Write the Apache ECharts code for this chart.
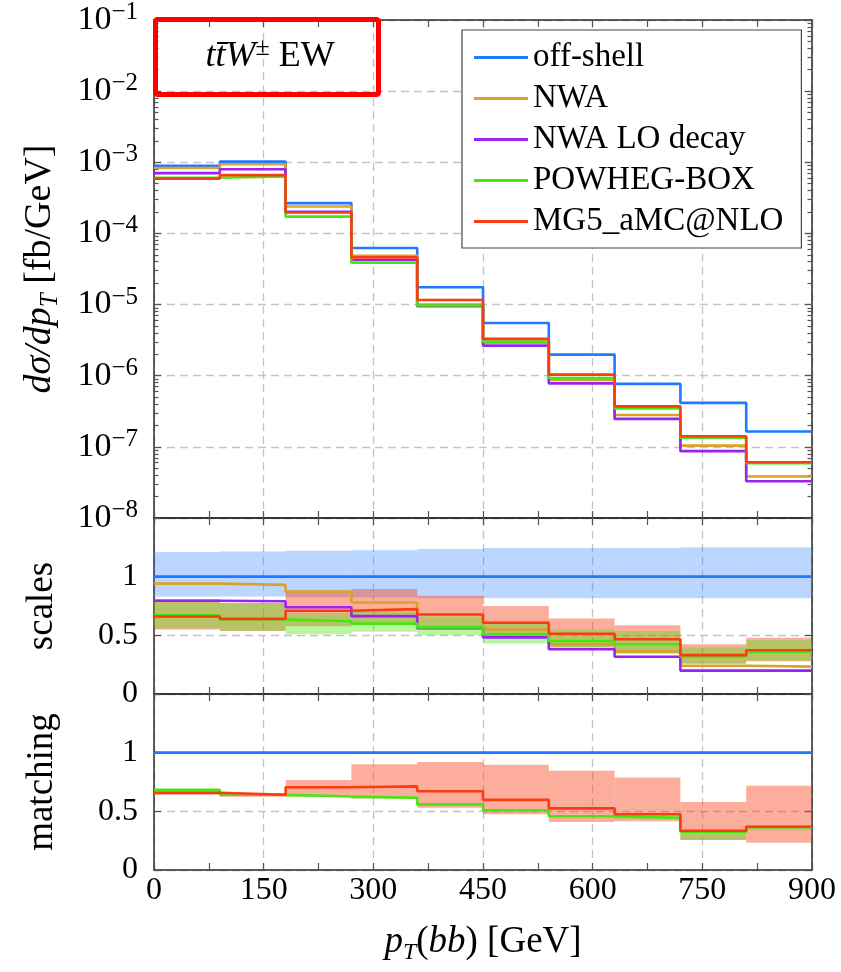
<!DOCTYPE html>
<html><head><meta charset="utf-8">
<script src="https://cdn.jsdelivr.net/npm/echarts@6.0.0/dist/echarts.min.js"></script>
<style>html,body{margin:0;padding:0;background:#fff}#c{width:841px;height:972px}</style>
</head><body><div id="c"></div>
<script>
// ---------- data ----------
const binEdges = [0, 90, 180, 270, 360, 450, 540, 630, 720, 810, 900];
const logDecades = [1e-8, 1e-7, 1e-6, 1e-5, 1e-4, 1e-3, 1e-2, 1e-1];
const logMinorMultipliers = [2, 3, 4, 5, 6, 7, 8, 9];
const ratioTicks = [0, 0.5, 1];
const seriesNames = ['off-shell', 'NWA', 'NWA LO decay', 'POWHEG-BOX', 'MG5_aMC@NLO'];

// top panel: dσ/dpT [fb/GeV]
const offShell = [8.9e-4, 1.02e-3, 2.67e-4, 6.24e-5, 1.75e-5, 5.52e-6, 1.98e-6, 7.67e-7, 4.15e-7, 1.64e-7];
const nwa      = [8.3e-4, 9.4e-4, 2.39e-4, 4.86e-5, 1.0e-5, 2.9e-6, 8.7e-7, 2.81e-7, 1.04e-7, 3.83e-8];
const nwaLO    = [7.05e-4, 8.0e-4, 2.02e-4, 4.23e-5, 9.5e-6, 2.65e-6, 7.8e-7, 2.47e-7, 8.7e-8, 3.29e-8];
const powheg   = [6.05e-4, 6.3e-4, 1.72e-4, 3.87e-5, 9.7e-6, 3.01e-6, 9.3e-7, 3.48e-7, 1.35e-7, 5.9e-8];
const mg5      = [5.9e-4, 6.6e-4, 1.97e-4, 4.6e-5, 1.16e-5, 3.29e-6, 1.035e-6, 3.71e-7, 1.41e-7, 6.08e-8];

// middle panel: scales ratio
const scOff    = [1, 1, 1, 1, 1, 1, 1, 1, 1, 1];
const scOffLo  = [0.83, 0.83, 0.825, 0.823, 0.817, 0.817, 0.817, 0.817, 0.817, 0.817];
const scOffHi  = [1.21, 1.215, 1.22, 1.225, 1.235, 1.245, 1.245, 1.245, 1.25, 1.25];
const scNwa    = [0.941, 0.93, 0.873, 0.78, 0.575, 0.55, 0.424, 0.362, 0.241, 0.233];
const scNwaLO  = [0.795, 0.79, 0.739, 0.664, 0.56, 0.483, 0.382, 0.317, 0.199, 0.199];
const scPowheg = [0.67, 0.635, 0.62, 0.60, 0.568, 0.508, 0.452, 0.424, 0.32, 0.359];
const scPowLo  = [0.56, 0.54, 0.51, 0.53, 0.50, 0.43, 0.38, 0.34, 0.255, 0.283];
const scPowHi  = [0.80, 0.775, 0.69, 0.70, 0.66, 0.62, 0.55, 0.536, 0.396, 0.46];
const scMg5    = [0.66, 0.64, 0.71, 0.723, 0.678, 0.607, 0.514, 0.466, 0.331, 0.373];
const scMg5Lo  = [0.55, 0.536, 0.578, 0.60, 0.587, 0.494, 0.40, 0.35, 0.26, 0.28];
const scMg5Hi  = [0.81, 0.775, 0.88, 0.894, 0.837, 0.75, 0.643, 0.587, 0.424, 0.48];

// bottom panel: matching ratio
const mOff     = [1, 1, 1, 1, 1, 1, 1, 1, 1, 1];
const mPowheg  = [0.683, 0.641, 0.627, 0.616, 0.559, 0.508, 0.458, 0.444, 0.326, 0.365];
const mPowLo   = [0.675, 0.633, 0.62, 0.608, 0.55, 0.5, 0.45, 0.436, 0.256, 0.34];
const mPowHi   = [0.69, 0.648, 0.634, 0.624, 0.567, 0.516, 0.466, 0.452, 0.334, 0.372];
const mMg5     = [0.658, 0.641, 0.705, 0.713, 0.671, 0.598, 0.525, 0.475, 0.334, 0.368];
const mMg5Lo   = [0.64, 0.625, 0.627, 0.61, 0.53, 0.475, 0.41, 0.416, 0.256, 0.233];
const mMg5Hi   = [0.68, 0.655, 0.767, 0.902, 0.921, 0.896, 0.846, 0.789, 0.579, 0.719];

// ---------- styling ----------
const FONT = "'Liberation Serif','DejaVu Serif',serif";
const C = {
  off: '#1e7bff', nwa: '#dba22a', nwaLO: '#9b22f5', pow: '#44e810', mg5: '#fa3c10'
};
const BAND = {
  off: 'rgba(30,123,255,0.30)', pow: 'rgba(68,232,16,0.38)', mg5: 'rgba(250,60,16,0.42)'
};
const gridLine = {show: true, lineStyle: {color: '#c4c4c4', width: 1.3, type: [8, 5]}};
const frame = {show: true, onZero: false, lineStyle: {color: '#2a2a2a', width: 1.5}};
const tickStyle = {color: '#555', width: 1.2};
const minorLogTicks = [];
logDecades.slice(0, -1).forEach(d => logMinorMultipliers.forEach(m => minorLogTicks.push(m * d)));

function stepData(vals) {
  const d = vals.map((v, i) => [binEdges[i], v]);
  d.push([binEdges[vals.length], vals[vals.length - 1]]);
  return d;
}
function bandData(lo, hi) {
  return lo.map((l, i) => [binEdges[i], binEdges[i + 1], l, hi[i]]);
}
function lineSeries(name, vals, color, xi, yi) {
  return {
    type: 'line', name, xAxisIndex: xi, yAxisIndex: yi, step: 'end',
    data: stepData(vals), symbol: 'none', showSymbol: false,
    itemStyle: {color}, lineStyle: {color, width: 2.6}, z: 3, silent: true
  };
}
function bandSeries(lo, hi, color, xi, yi) {
  return {
    type: 'custom', xAxisIndex: xi, yAxisIndex: yi, clip: true, silent: true, z: 2,
    data: bandData(lo, hi), encode: {x: [0, 1], y: [2, 3]},
    renderItem: function (params, api) {
      const p0 = api.coord([api.value(0), api.value(3)]);
      const p1 = api.coord([api.value(1), api.value(2)]);
      return {type: 'rect', shape: {x: p0[0], y: p0[1], width: p1[0] - p0[0], height: p1[1] - p0[1]},
              style: {fill: color}};
    }
  };
}

const labelFont = {fontFamily: FONT, fontSize: 32, color: '#000'};
function mathRich(size) {
  return {
    i: {fontFamily: FONT, fontSize: size, fontStyle: 'italic', lineHeight: size + 8, color: '#000'},
    n: {fontFamily: FONT, fontSize: size, lineHeight: size + 8, color: '#000'},
    s: {fontFamily: FONT, fontSize: Math.round(size * 0.66), fontStyle: 'italic',
        lineHeight: Math.round(size * 0.66), verticalAlign: 'bottom', color: '#000'}
  };
}

function xAx(gi, pos, withLabels) {
  const ax = {
    type: 'value', gridIndex: gi, position: pos, min: 0, max: 900, interval: 150,
    axisLine: frame,
    axisTick: {show: true, inside: true, length: 7, lineStyle: tickStyle},
    minorTick: {show: true, splitNumber: 2, length: 7, lineStyle: tickStyle},
    splitLine: pos === 'bottom' ? gridLine : {show: false},
    axisLabel: {show: false}
  };
  if (withLabels) {
    ax.axisLabel = Object.assign({show: true, margin: 5}, labelFont);
    ax.name = '{i|p}{s|T}{n|(}{i|bb}{n|) [GeV]}';
    ax.nameLocation = 'middle';
    ax.nameGap = 50;
    ax.nameTextStyle = {rich: mathRich(37)};
  }
  return ax;
}

function yLog(pos, minor) {
  const ax = {
    type: 'log', logBase: 10, gridIndex: 0, position: pos, min: 1e-8, max: 1e-1,
    axisLine: minor ? {show: false, onZero: false} : frame,
    axisTick: {show: true, inside: true, length: minor ? 4.5 : 7,
               customValues: minor ? minorLogTicks : logDecades, lineStyle: tickStyle},
    axisLabel: {show: false},
    splitLine: (!minor && pos === 'left') ? gridLine : {show: false}
  };
  if (!minor && pos === 'left') {
    ax.axisLabel = {
      show: true, margin: 16, customValues: logDecades,
      formatter: v => '{a|10}{b|\u2212' + Math.round(-Math.log10(v)) + '}',
      rich: {
        a: {fontFamily: FONT, fontSize: 34, lineHeight: 40, color: '#000'},
        b: {fontFamily: FONT, fontSize: 25, lineHeight: 25, verticalAlign: 'top', color: '#000'}
      }
    };
    ax.name = '{i|d\u03c3/dp}{s|T}{n| [fb/GeV]}';
    ax.nameLocation = 'middle';
    ax.nameRotate = 90;
    ax.nameGap = 91;
    ax.nameTextStyle = {rich: mathRich(38)};
  }
  return ax;
}

function yRatio(gi, pos, name) {
  const ax = {
    type: 'value', gridIndex: gi, position: pos, min: 0, max: 1.5,
    axisLine: frame,
    axisTick: {show: true, inside: true, length: 7, customValues: ratioTicks, lineStyle: tickStyle},
    axisLabel: {show: false},
    splitLine: pos === 'left' ? gridLine : {show: false}
  };
  if (pos === 'left') {
    ax.axisLabel = Object.assign({show: true, margin: 16, customValues: ratioTicks,
                                  formatter: v => String(v)}, labelFont);
    ax.name = name;
    ax.nameLocation = 'middle';
    ax.nameRotate = 90;
    ax.nameGap = 90;
    ax.nameTextStyle = {fontFamily: FONT, fontSize: 37, lineHeight: 44, color: '#000'};
  }
  return ax;
}

const option = {
  animation: false,
  backgroundColor: '#fff',
  grid: [
    {left: 154, top: 19, width: 658, height: 499},
    {left: 154, top: 518, width: 658, height: 176},
    {left: 154, top: 694, width: 658, height: 176}
  ],
  xAxis: [
    xAx(0, 'bottom', false), xAx(0, 'top', false),
    xAx(1, 'bottom', false), xAx(1, 'top', false),
    xAx(2, 'bottom', true), xAx(2, 'top', false)
  ],
  yAxis: [
    yLog('left', false), yLog('left', true), yLog('right', false), yLog('right', true),
    yRatio(1, 'left', 'scales'), yRatio(1, 'right'),
    yRatio(2, 'left', 'matching'), yRatio(2, 'right')
  ],
  legend: {
    data: seriesNames, orient: 'vertical', left: 462, top: 30,
    padding: [11, 18, 10, 12], itemWidth: 54, itemHeight: 3, itemGap: 8, icon: 'rect',
    backgroundColor: '#fff', borderColor: '#444', borderWidth: 1.2, borderRadius: 0,
    selectedMode: false,
    textStyle: {fontFamily: FONT, fontSize: 33, lineHeight: 32, color: '#000'},
    z: 20
  },
  graphic: [
    {type: 'rect', z: 100, silent: true,
     shape: {x: 155.5, y: 19.5, width: 223, height: 75, r: 2},
     style: {fill: 'none', stroke: '#ff0000', lineWidth: 5}},
    {type: 'text', z: 100, silent: true, x: 270, y: 57,
     style: {
       text: '{i|tt\u0304W}{s|\u00b1}{n| EW}', align: 'center', verticalAlign: 'middle',
       rich: {
         i: {fontFamily: FONT, fontSize: 36, fontStyle: 'italic', lineHeight: 44, fill: '#000'},
         n: {fontFamily: FONT, fontSize: 36, lineHeight: 44, fill: '#000'},
         s: {fontFamily: FONT, fontSize: 26, lineHeight: 26, verticalAlign: 'top', fill: '#000'}
       }
     }}
  ],
  series: [
    // top
    lineSeries(seriesNames[0], offShell, C.off, 0, 0),
    lineSeries(seriesNames[1], nwa, C.nwa, 0, 0),
    lineSeries(seriesNames[2], nwaLO, C.nwaLO, 0, 0),
    lineSeries(seriesNames[3], powheg, C.pow, 0, 0),
    lineSeries(seriesNames[4], mg5, C.mg5, 0, 0),
    // middle (scales)
    bandSeries(scOffLo, scOffHi, BAND.off, 2, 4),
    bandSeries(scMg5Lo, scMg5Hi, BAND.mg5, 2, 4),
    bandSeries(scPowLo, scPowHi, BAND.pow, 2, 4),
    lineSeries(seriesNames[0], scOff, C.off, 2, 4),
    lineSeries(seriesNames[1], scNwa, C.nwa, 2, 4),
    lineSeries(seriesNames[2], scNwaLO, C.nwaLO, 2, 4),
    lineSeries(seriesNames[3], scPowheg, C.pow, 2, 4),
    lineSeries(seriesNames[4], scMg5, C.mg5, 2, 4),
    // bottom (matching)
    bandSeries(mMg5Lo, mMg5Hi, BAND.mg5, 4, 6),
    bandSeries(mPowLo, mPowHi, BAND.pow, 4, 6),
    lineSeries(seriesNames[0], mOff, C.off, 4, 6),
    lineSeries(seriesNames[3], mPowheg, C.pow, 4, 6),
    lineSeries(seriesNames[4], mMg5, C.mg5, 4, 6)
  ]
};

const chart = echarts.init(document.getElementById('c'), null, {renderer: 'canvas'});
chart.setOption(option);
</script>
</body></html>
